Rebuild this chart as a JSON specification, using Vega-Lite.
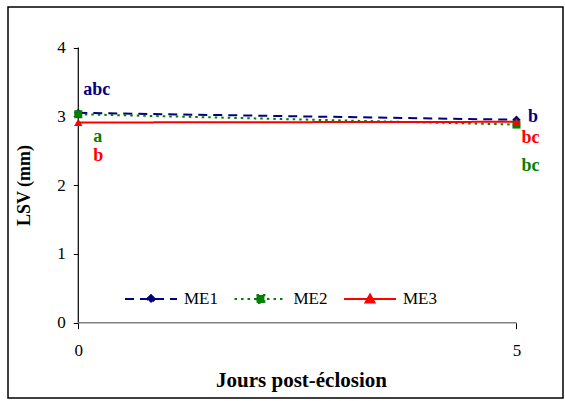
{
  "$schema": "https://vega.github.io/schema/vega-lite/v6.json",
  "width": 555,
  "height": 391,
  "padding": {"left": 8, "top": 7, "right": 2, "bottom": 3},
  "background": "white",
  "config": {
    "view": {"stroke": "black", "strokeWidth": 1.5},
    "font": "Liberation Serif, Times New Roman, DejaVu Serif, serif",
    "axis": {"grid": false, "domain": false, "labelFont": "Liberation Serif, Times New Roman, DejaVu Serif, serif", "labelFontSize": 17, "labelColor": "black", "tickColor": "black", "titleFont": "Liberation Serif, Times New Roman, DejaVu Serif, serif", "titleColor": "black", "titleFontWeight": "bold"},
    "text": {"font": "Liberation Serif, Times New Roman, DejaVu Serif, serif"}
  },
  "datasets": {
    "lsv": [
      {"day": 0, "series": "ME1", "lsv": 3.05, "letters": "abc"},
      {"day": 5, "series": "ME1", "lsv": 2.95, "letters": "b"},
      {"day": 0, "series": "ME2", "lsv": 3.03, "letters": "a"},
      {"day": 5, "series": "ME2", "lsv": 2.88, "letters": "bc"},
      {"day": 0, "series": "ME3", "lsv": 2.91, "letters": "b"},
      {"day": 5, "series": "ME3", "lsv": 2.92, "letters": "bc"}
    ],
    "axislines": [
      {"x0": 0, "x1": 0, "y0": 0, "y1": 4, "kind": "y"},
      {"x0": 0, "x1": 5, "y0": 0, "y1": 0, "kind": "x"}
    ]
  },
  "layer": [
    {
      "data": {"name": "lsv"},
      "mark": {"type": "line", "strokeWidth": 2},
      "encoding": {
        "x": {"field": "day", "type": "quantitative", "scale": {"domain": [-0.802, 5.531], "nice": false, "zero": false},
          "axis": {"values": [0, 5], "format": "d", "offset": -75.3, "tickSize": 6, "labelPadding": 14, "title": "Jours post-éclosion", "titleFontSize": 21, "titlePadding": 11, "titleX": 293}},
        "y": {"field": "lsv", "type": "quantitative", "scale": {"domain": [-1.0945, 4.5887], "nice": false, "zero": false},
          "axis": {"values": [0, 1, 2, 3, 4], "format": "d", "offset": -70.3, "tickSize": 5, "labelPadding": 8, "title": "LSV (mm)", "titleFontSize": 18, "titlePadding": 23, "titleY": 178}},
        "color": {"field": "series", "type": "nominal", "scale": {"domain": ["ME1", "ME2", "ME3"], "range": ["#000080", "#008000", "#FF0000"]},
          "legend": {"title": null, "orient": "none", "legendX": 116, "legendY": 265, "direction": "horizontal", "padding": 0,
            "symbolSize": 2704, "symbolStrokeWidth": 2, "labelFont": "Liberation Serif, Times New Roman, DejaVu Serif, serif", "labelFontSize": 17, "labelColor": "black", "labelOffset": 6, "columnPadding": 12.5,
            "encode": {"symbols": {"update": {
              "shape": {"signal": "datum.value === 'ME1' ? 'M-1,0L1,0M0,-0.15L0.15,0L0,0.15L-0.15,0Z' : datum.value === 'ME2' ? 'M-1,0L1,0M-0.15,-0.15L0.15,-0.15L0.15,0.15L-0.15,0.15Z' : 'M-1,0L1,0M0,-0.17L0.17,0.13L-0.17,0.13Z'"},
              "fill": {"scale": "color", "field": "value"},
              "stroke": {"scale": "color", "field": "value"},
              "opacity": {"value": 1}
            }}}}},
        "strokeDash": {"field": "series", "type": "nominal", "scale": {"domain": ["ME1", "ME2", "ME3"], "range": [[9, 6], [2.5, 4], [1, 0]]}}
      }
    },
    {
      "data": {"name": "axislines"},
      "mark": {"type": "rule"},
      "encoding": {
        "x": {"field": "x0", "type": "quantitative"},
        "x2": {"field": "x1"},
        "y": {"field": "y0", "type": "quantitative"},
        "y2": {"field": "y1"},
        "stroke": {"condition": {"test": "datum.kind === 'y'", "value": "black"}, "value": "#808080"},
        "strokeWidth": {"condition": {"test": "datum.kind === 'y'", "value": 1.2}, "value": 1.5}
      }
    },
    {
      "data": {"name": "lsv"},
      "transform": [{"filter": "datum.series === 'ME1'"}],
      "mark": {"type": "point", "filled": true, "opacity": 1, "size": 70, "shape": "diamond"},
      "encoding": {"x": {"field": "day", "type": "quantitative"}, "y": {"field": "lsv", "type": "quantitative"}, "color": {"field": "series", "type": "nominal"}}
    },
    {
      "data": {"name": "lsv"},
      "transform": [{"filter": "datum.series === 'ME2'"}],
      "mark": {"type": "point", "filled": true, "opacity": 1, "size": 64, "shape": "square"},
      "encoding": {"x": {"field": "day", "type": "quantitative"}, "y": {"field": "lsv", "type": "quantitative"}, "color": {"field": "series", "type": "nominal"}}
    },
    {
      "data": {"name": "lsv"},
      "transform": [{"filter": "datum.series === 'ME3'"}],
      "mark": {"type": "point", "filled": true, "opacity": 1, "size": 70, "shape": "triangle-up"},
      "encoding": {"x": {"field": "day", "type": "quantitative"}, "y": {"field": "lsv", "type": "quantitative"}, "color": {"field": "series", "type": "nominal"}}
    },
    {"data": {"name": "lsv"}, "transform": [{"filter": "datum.series === 'ME1' && datum.day === 0"}], "mark": {"type": "text", "align": "left", "baseline": "alphabetic", "dx": 5, "dy": -18, "fontSize": 18, "fontWeight": "bold", "color": "#000080"}, "encoding": {"x": {"field": "day", "type": "quantitative"}, "y": {"field": "lsv", "type": "quantitative"}, "text": {"field": "letters"}}},
    {"data": {"name": "lsv"}, "transform": [{"filter": "datum.series === 'ME2' && datum.day === 0"}], "mark": {"type": "text", "align": "left", "baseline": "alphabetic", "dx": 15, "dy": 28, "fontSize": 18, "fontWeight": "bold", "color": "#008000"}, "encoding": {"x": {"field": "day", "type": "quantitative"}, "y": {"field": "lsv", "type": "quantitative"}, "text": {"field": "letters"}}},
    {"data": {"name": "lsv"}, "transform": [{"filter": "datum.series === 'ME3' && datum.day === 0"}], "mark": {"type": "text", "align": "left", "baseline": "alphabetic", "dx": 15, "dy": 38.5, "fontSize": 18, "fontWeight": "bold", "color": "#FF0000"}, "encoding": {"x": {"field": "day", "type": "quantitative"}, "y": {"field": "lsv", "type": "quantitative"}, "text": {"field": "letters"}}},
    {"data": {"name": "lsv"}, "transform": [{"filter": "datum.series === 'ME1' && datum.day === 5"}], "mark": {"type": "text", "align": "left", "baseline": "alphabetic", "dx": 11.5, "dy": 2, "fontSize": 18, "fontWeight": "bold", "color": "#000080"}, "encoding": {"x": {"field": "day", "type": "quantitative"}, "y": {"field": "lsv", "type": "quantitative"}, "text": {"field": "letters"}}},
    {"data": {"name": "lsv"}, "transform": [{"filter": "datum.series === 'ME2' && datum.day === 5"}], "mark": {"type": "text", "align": "left", "baseline": "alphabetic", "dx": 5, "dy": 46.4, "fontSize": 18, "fontWeight": "bold", "color": "#008000"}, "encoding": {"x": {"field": "day", "type": "quantitative"}, "y": {"field": "lsv", "type": "quantitative"}, "text": {"field": "letters"}}},
    {"data": {"name": "lsv"}, "transform": [{"filter": "datum.series === 'ME3' && datum.day === 5"}], "mark": {"type": "text", "align": "left", "baseline": "alphabetic", "dx": 5, "dy": 21, "fontSize": 18, "fontWeight": "bold", "color": "#FF0000"}, "encoding": {"x": {"field": "day", "type": "quantitative"}, "y": {"field": "lsv", "type": "quantitative"}, "text": {"field": "letters"}}}
  ]
}
